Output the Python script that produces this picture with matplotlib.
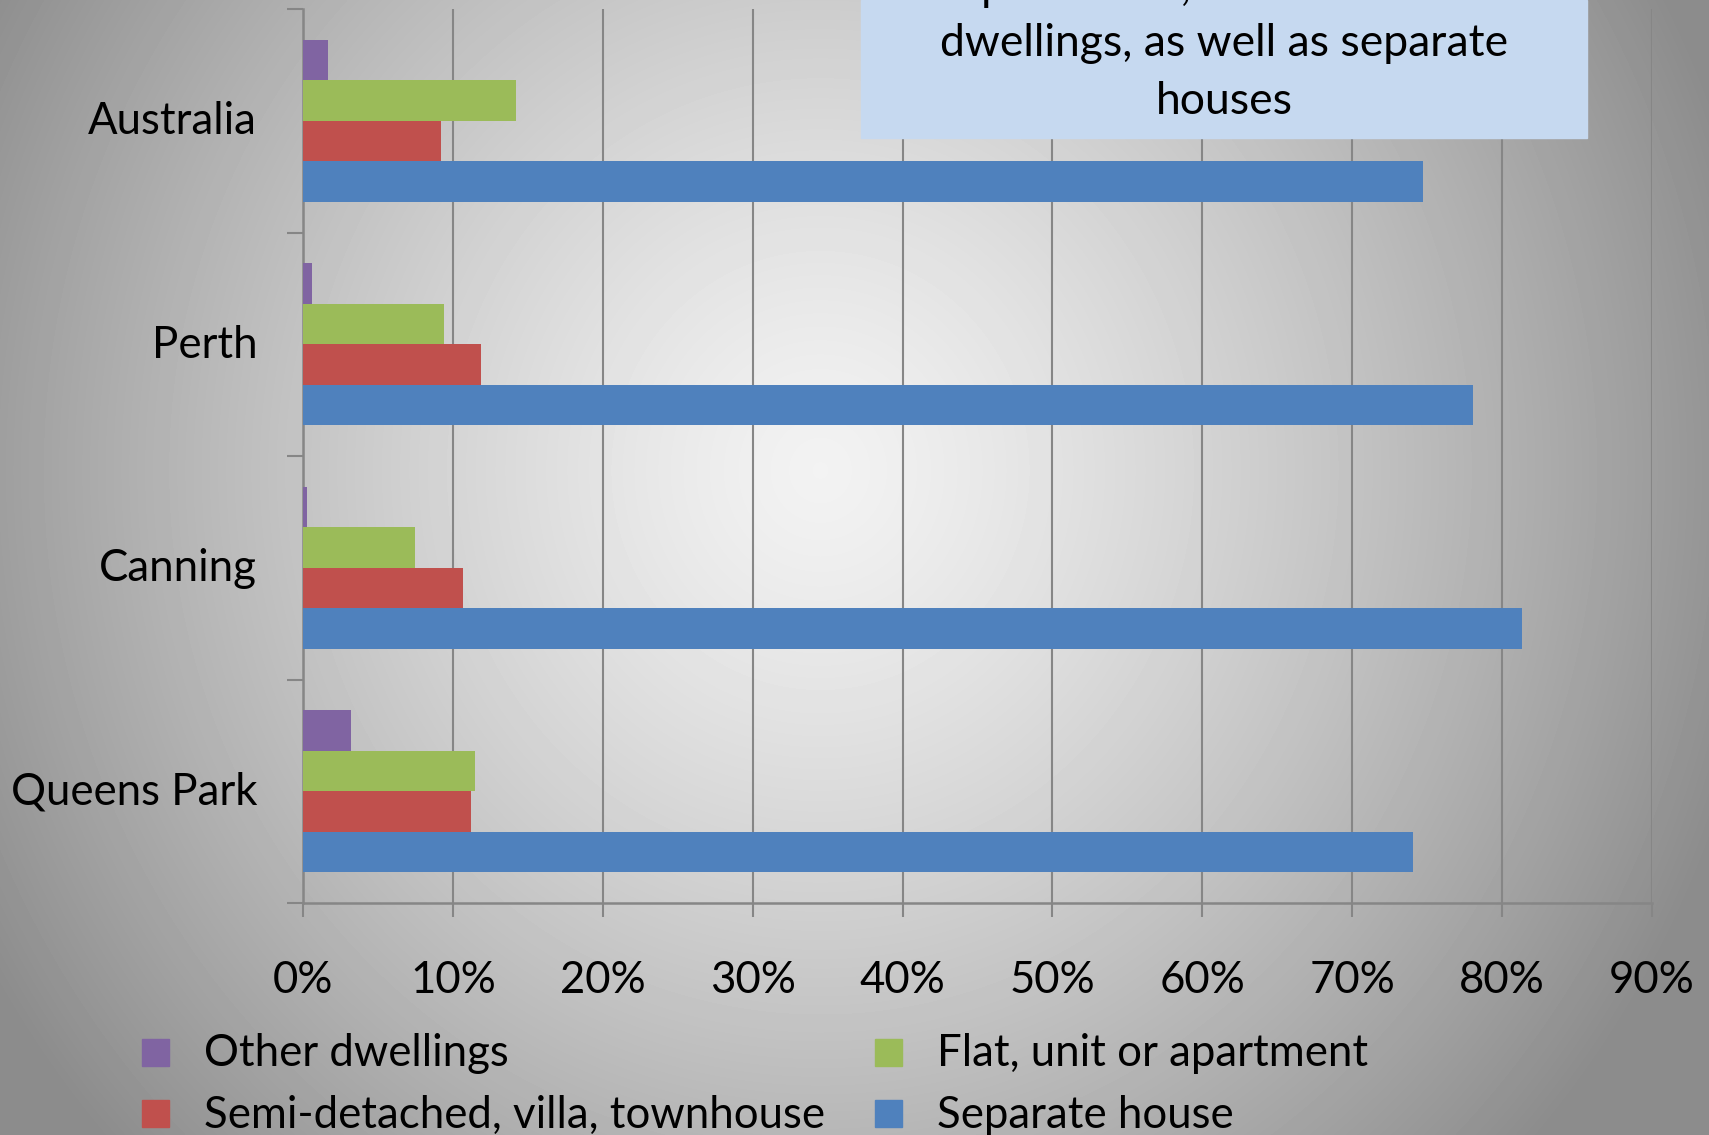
import matplotlib.pyplot as plt
from matplotlib.patches import Rectangle
from matplotlib.transforms import ScaledTranslation
import numpy as np

# Dwelling structure by area (share of occupied private dwellings)
areas = ["Australia", "Perth", "Canning", "Queens Park"]
separate_house = [74.7, 78.05, 81.3, 74.05]
semi_detached = [9.2, 11.85, 10.7, 11.2]
flat_unit = [14.2, 9.4, 7.5, 11.5]
other_dwellings = [1.67, 0.58, 0.3, 3.2]

series = [
    ("Other dwellings", other_dwellings, "#8064a2"),
    ("Flat, unit or apartment", flat_unit, "#9bbb59"),
    ("Semi-detached, villa, townhouse", semi_detached, "#c0504d"),
    ("Separate house", separate_house, "#4f81bd"),
]
x_ticks = list(range(0, 100, 10))
x_labels = [f"{t}%" for t in x_ticks]

note_lines = ["apartments, semi-detached", "dwellings, as well as separate", "houses"]

plt.rcParams['font.family'] = ['Lato', 'DejaVu Sans']
W, H = 1709, 1135
FS = 31.5
fig = plt.figure(figsize=(W / 100, H / 100), dpi=100)

# radial grey background
bg = fig.add_axes([0, 0, 1, 1], zorder=-10)
yy, xx = np.mgrid[0:H, 0:W]
r = np.hypot((xx - 820) / 1.0, (yy - 470) / 1.05)
shade = np.clip(0.95 - 0.37 * (r / 900) ** 1.3, 0.55, 1)
bg.imshow(shade, cmap="gray", vmin=0, vmax=1, aspect="auto", extent=[0, W, H, 0])
bg.axis("off")

ax = fig.add_axes([303 / W, 1 - 903 / H, (1652 - 303) / W, (903 - 9) / H])
ax.set_facecolor("none")

y = np.arange(len(areas))
h = 0.1817
offsets = [-1.5 * h, -0.5 * h, 0.5 * h, 1.5 * h]
for (label, vals, color), off in zip(series, offsets):
    ax.barh(y + off, vals, height=h, color=color, label=label, zorder=3)

ax.set_xlim(0, 90)
ax.set_ylim(len(areas) - 0.5, -0.5)
ax.set_xticks(x_ticks, x_labels)
ax.set_yticks(y, areas)
ax.set_yticks(np.arange(-0.5, len(areas)), minor=True)

grid_c = "#868686"
ax.grid(axis="x", color=grid_c, linewidth=1.5, zorder=1)
for side in ["top", "right"]:
    ax.spines[side].set_visible(False)
for side in ["left", "bottom"]:
    ax.spines[side].set_color(grid_c)
    ax.spines[side].set_linewidth(1.8)

ax.tick_params(axis="x", length=10, width=1.5, color=grid_c, pad=31, labelsize=FS)
ax.tick_params(axis="y", which="major", length=0, pad=33, labelsize=FS)
ax.tick_params(axis="y", which="minor", length=11.5, width=1.5, color=grid_c)
for lbl in ax.get_yticklabels():
    lbl.set_transform(lbl.get_transform() + ScaledTranslation(0, 3 / 100, fig.dpi_scale_trans))

# note box at the top
fig.patches.append(Rectangle((861 / W, 1 - 138 / H), (1587 - 861) / W, 138 / H,
                             transform=fig.transFigure, color="#c6d9f0", zorder=5))
for i, line in enumerate(note_lines):
    fig.text(1224 / W, 1 - (-13 + 57 * i) / H, line, ha="center", va="center",
             fontsize=32, zorder=6)

# legend in two columns below the axis
legend_pos = [(142, 1052), (142, 1113), (875, 1052), (875, 1113)]
legend_order = [series[0], series[2], series[1], series[3]]
for (label, _, color), (lx, ly) in zip(legend_order, legend_pos):
    fig.patches.append(Rectangle((lx / W, 1 - (ly + 13.5) / H), 27 / W, 27 / H,
                                 transform=fig.transFigure, color=color))
    fig.text((lx + 62) / W, 1 - (ly + 2) / H, label, ha="left", va="center", fontsize=FS)

fig.savefig("out.png", dpi=100)
